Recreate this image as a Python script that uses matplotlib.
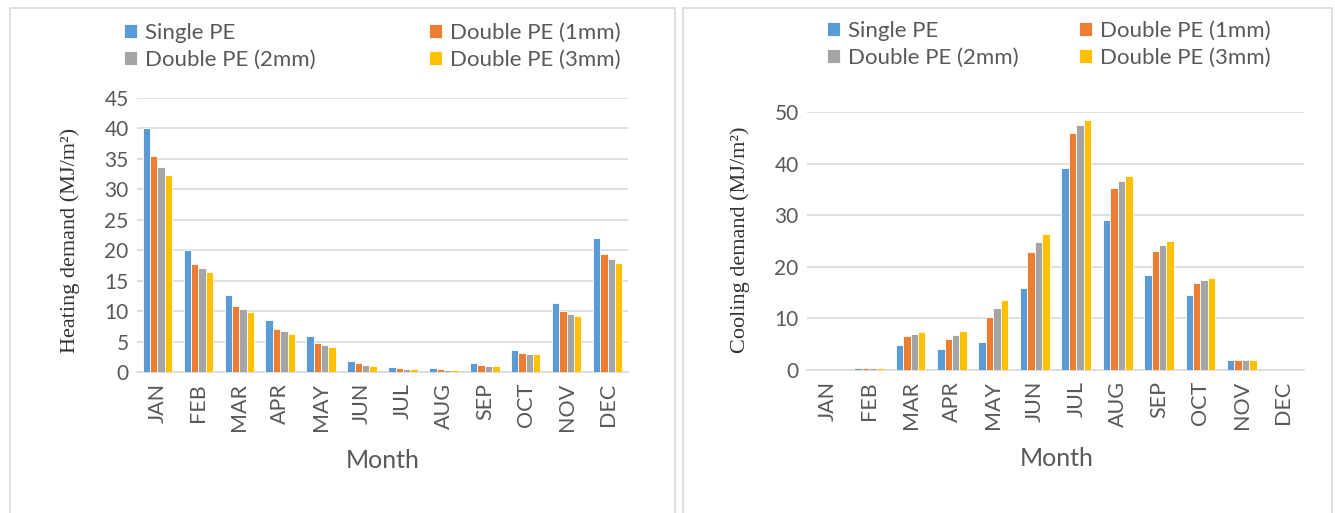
import matplotlib.pyplot as plt
import numpy as np
from matplotlib.patches import Rectangle

months = ["JAN", "FEB", "MAR", "APR", "MAY", "JUN", "JUL", "AUG", "SEP", "OCT", "NOV", "DEC"]
series = ["Single PE", "Double PE (1mm)", "Double PE (2mm)", "Double PE (3mm)"]
colors = ["#5B9BD5", "#ED7D31", "#A5A5A5", "#FFC000"]

# heating demand, MJ/m2
heat_single = [40.0, 20.1, 12.7, 8.5, 5.9, 1.8, 0.9, 0.7, 1.4, 3.6, 11.4, 22.0]
heat_1mm = [35.5, 17.8, 10.9, 7.1, 4.8, 1.4, 0.65, 0.5, 1.1, 3.2, 10.0, 19.4]
heat_2mm = [33.7, 17.0, 10.3, 6.7, 4.4, 1.2, 0.55, 0.4, 1.05, 3.0, 9.5, 18.5]
heat_3mm = [32.4, 16.4, 9.9, 6.3, 4.1, 1.0, 0.45, 0.4, 1.0, 2.9, 9.2, 17.9]

# cooling demand, MJ/m2
cool_single = [0.0, 0.3, 4.9, 4.0, 5.4, 15.8, 39.2, 29.1, 18.5, 14.5, 1.9, 0.0]
cool_1mm = [0.0, 0.3, 6.5, 6.0, 10.2, 22.8, 46.0, 35.2, 23.0, 16.8, 2.0, 0.0]
cool_2mm = [0.0, 0.3, 6.9, 6.7, 12.1, 24.8, 47.4, 36.6, 24.2, 17.4, 2.0, 0.0]
cool_3mm = [0.0, 0.3, 7.3, 7.5, 13.5, 26.3, 48.5, 37.6, 25.0, 17.8, 2.0, 0.0]

heat_ticks = [0, 5, 10, 15, 20, 25, 30, 35, 40, 45]
cool_ticks = [0, 10, 20, 30, 40, 50]

txt = "#595959"
grid = "#D9D9D9"
sans = ["Lato", "DejaVu Sans"]
serif = ["Liberation Serif", "DejaVu Serif"]

W, H = 1335, 513
fig = plt.figure(figsize=(W / 100, H / 100), dpi=100)
fig.patch.set_facecolor("white")

# panel frames
for x0, x1 in [(10, 675), (683, 1332)]:
    fig.patches.append(Rectangle((x0 / W, -0.02), (x1 - x0) / W, 1 - 8 / H + 0.02,
                                 transform=fig.transFigure, fill=False,
                                 edgecolor="#D9D9D9", linewidth=1.2))


def draw(rect, data, ticks, ylabel, ylab_x, month_xy, leg_xy, colsp):
    ax = fig.add_axes(rect)
    x = np.arange(len(months))
    bw = 0.18
    bars = []
    for i, vals in enumerate(data):
        b = ax.bar(x + (i - 1.5) * bw, vals, width=bw, color=colors[i],
                   edgecolor="white", linewidth=0.6, zorder=3)
        bars.append(b)
    ax.set_xlim(-0.5, len(months) - 0.5)
    ax.set_ylim(0, ticks[-1])
    ax.set_yticks(ticks)
    ax.set_yticklabels([str(t) for t in ticks], fontsize=15, color=txt, family=sans)
    ax.set_xticks(x)
    ax.set_xticklabels(months, rotation=90, fontsize=15.5, color=txt, family=sans)
    ax.tick_params(length=0, pad=8)
    ax.tick_params(axis="y", pad=6)
    for s in ["top", "right", "left"]:
        ax.spines[s].set_visible(False)
    ax.spines["bottom"].set_color(grid)
    ax.spines["bottom"].set_linewidth(1.2)
    ax.yaxis.grid(True, color=grid, linewidth=1.2, zorder=0)
    ax.set_axisbelow(True)
    fig.text(ylab_x / W, 1 - 240 / H, ylabel, rotation=90, ha="center", va="center",
             fontsize=16, color="#333333", family=serif)
    fig.text(month_xy[0] / W, 1 - month_xy[1] / H, "Month", ha="center", va="center",
             fontsize=18, color=txt, family=sans)
    order = [0, 2, 1, 3]
    leg = fig.legend([bars[i] for i in order], [series[i] for i in order], ncol=2,
                     loc="upper left", bbox_to_anchor=(leg_xy[0] / W, 1 - leg_xy[1] / H),
                     frameon=False, handlelength=0.6, handleheight=0.6,
                     handletextpad=0.35, columnspacing=colsp, labelspacing=0.3,
                     borderaxespad=0, borderpad=0, prop={"family": sans, "size": 16})
    for t in leg.get_texts():
        t.set_color(txt)
    return ax


draw([137 / W, 1 - 372 / H, 491 / W, 274 / H],
     [heat_single, heat_1mm, heat_2mm, heat_3mm], heat_ticks,
     "Heating demand (MJ/m²)", 70, (383, 460), (124, 23), 5.1)
draw([807 / W, 1 - 370 / H, 497 / W, 258 / H],
     [cool_single, cool_1mm, cool_2mm, cool_3mm], cool_ticks,
     "Cooling demand (MJ/m²)", 740, (1057, 458), (827, 21), 2.7)

fig.savefig("out.png", dpi=100, facecolor="white")
